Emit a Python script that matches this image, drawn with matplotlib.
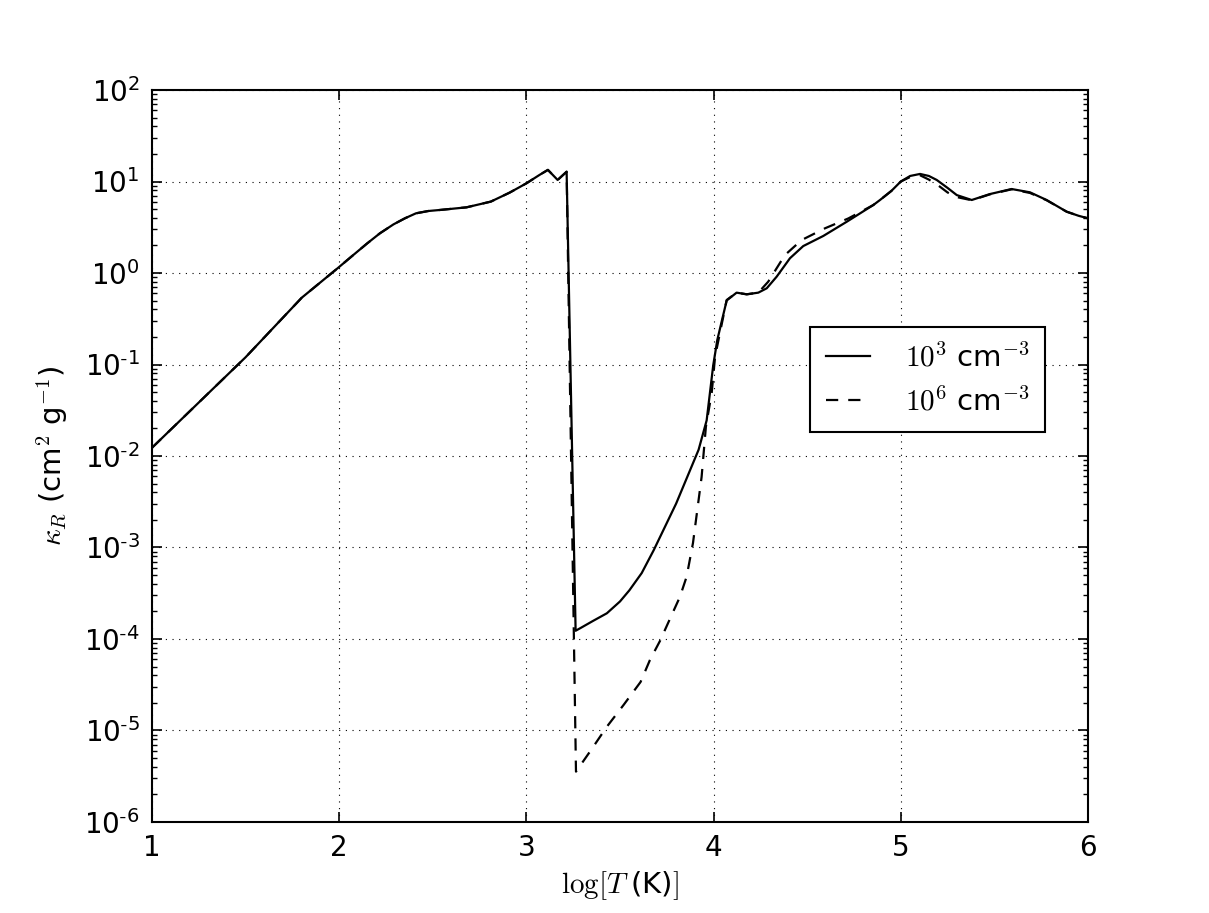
import numpy as np
import matplotlib
matplotlib.use("Agg")
import matplotlib.pyplot as plt
from matplotlib.ticker import LogLocator, NullFormatter, FixedLocator, FuncFormatter

plt.rcParams['font.family'] = ['DejaVu Sans']
plt.rcParams['mathtext.fontset'] = 'cm'

# shared low-temperature branch (log T, kappa_R)
logT_low = [1.0, 1.5, 1.8, 1.99, 2.075, 2.15, 2.218, 2.29, 2.351, 2.41, 2.476, 2.54, 2.68,
            2.81, 2.91, 3.0, 3.07, 3.115, 3.167, 3.215]
kappa_low = [0.0123, 0.120, 0.537, 1.12, 1.57, 2.11, 2.72, 3.40, 3.96, 4.49, 4.76, 4.89, 5.22,
             6.03, 7.55, 9.55, 11.8, 13.4, 10.4, 12.8]

# n = 1e3 cm^-3
logT_n3 = [3.263, 3.29, 3.357, 3.43, 3.5, 3.55, 3.616, 3.68, 3.80, 3.92, 3.963, 3.998, 4.02,
           4.07, 4.123, 4.177, 4.239, 4.284, 4.337, 4.408, 4.479, 4.586, 4.711, 4.853, 4.889,
           4.95, 5.0, 5.05, 5.103, 5.15, 5.192, 5.25, 5.299, 5.379, 5.476, 5.592, 5.69, 5.779,
           5.886, 5.95, 6.0]
kappa_n3 = [1.23e-4, 1.32e-4, 1.58e-4, 1.91e-4, 2.57e-4, 3.4e-4, 5.25e-4, 9.33e-4, 3.02e-3,
            1.17e-2, 2.45e-2, 9.77e-2, 0.186, 0.501, 0.610, 0.585, 0.610, 0.681, 0.912, 1.45,
            1.97, 2.54, 3.63, 5.53, 6.28, 7.9, 10.0, 11.5, 12.1, 11.5, 10.4, 8.51, 7.11, 6.28,
            7.29, 8.28, 7.62, 6.28, 4.68, 4.22, 3.96]

# n = 1e6 cm^-3
logT_n6 = [3.265, 3.34, 3.43, 3.52, 3.61, 3.66, 3.714, 3.78, 3.82, 3.856, 3.89, 3.936, 3.959,
           3.99, 4.008, 4.07, 4.123, 4.177, 4.239, 4.292, 4.381, 4.47, 4.595, 4.72, 4.853,
           4.889, 4.95, 5.0, 5.05, 5.103, 5.15, 5.192, 5.25, 5.299, 5.379, 5.476, 5.592, 5.69,
           5.779, 5.886, 5.95, 6.0]
kappa_n6 = [3.55e-6, 5.89e-6, 1.10e-5, 1.91e-5, 3.39e-5, 5.89e-5, 9.55e-5, 1.9e-4, 2.88e-4,
            4.79e-4, 1.12e-3, 5.89e-3, 2.09e-2, 4.90e-2, 0.122, 0.507, 0.610, 0.585, 0.610,
            0.804, 1.57, 2.29, 3.08, 3.95, 5.53, 6.28, 7.9, 10.0, 11.2, 11.7, 10.5, 9.33, 7.59,
            6.76, 6.24, 7.24, 8.22, 7.50, 6.24, 4.68, 4.22, 3.96]

labels = [r'$10^3$ cm$^{-3}$', r'$10^6$ cm$^{-3}$']
xticks = [1, 2, 3, 4, 5, 6]

fig = plt.figure(figsize=(12.09, 9.13), dpi=100)
ax = fig.add_axes([0.1257, 0.0997, 0.7742, 0.8017])

x3 = logT_low + logT_n3
y3 = kappa_low + kappa_n3
x6 = logT_low + logT_n6
y6 = kappa_low + kappa_n6

ax.plot(x3, y3, color='black', lw=1.6, label=labels[0])
ax.plot(x6, y6, color='black', lw=1.6, linestyle=(0, (5.5, 4.5)), label=labels[1])

ax.set_yscale('log')
ax.set_xlim(1, 6)
ax.set_ylim(1e-6, 1e2)
ax.xaxis.set_major_locator(FixedLocator(xticks))
ax.yaxis.set_major_locator(LogLocator(base=10, numticks=20))
ax.yaxis.set_minor_locator(LogLocator(base=10, subs=np.arange(2, 10), numticks=20))
ax.yaxis.set_minor_formatter(NullFormatter())


def fmt(v, pos):
    e = int(round(np.log10(v)))
    if e < 0:
        return r'$\mathdefault{10^{\text{-}%d}}$' % (-e)
    return r'$\mathdefault{10^{%d}}$' % e


ax.yaxis.set_major_formatter(FuncFormatter(fmt))

ax.grid(True, which='major', color='black', linestyle=(0, (1, 5)), linewidth=0.8)
ax.tick_params(which='both', direction='in', top=True, right=True, labelsize=20)
ax.tick_params(which='major', length=7, width=1.2, pad=9)
ax.tick_params(which='minor', length=3.5, width=1.0)
for s in ax.spines.values():
    s.set_linewidth(1.5)

ax.set_xlabel(r'$\log[T\;$(K)$]$', fontsize=21, labelpad=5)
ax.set_ylabel(r'$\kappa_R$ (cm$^2$ g$^{-1}$)', fontsize=21, labelpad=10)

leg = ax.legend(loc='upper left', bbox_to_anchor=(0.703, 0.676), borderaxespad=0,
                fontsize=21, fancybox=False, edgecolor='black', framealpha=1,
                handlelength=1.5, handletextpad=1.2, borderpad=0.55, labelspacing=0.5)
leg.get_frame().set_linewidth(1.5)

fig.savefig('out.png', dpi=100, facecolor='white')
